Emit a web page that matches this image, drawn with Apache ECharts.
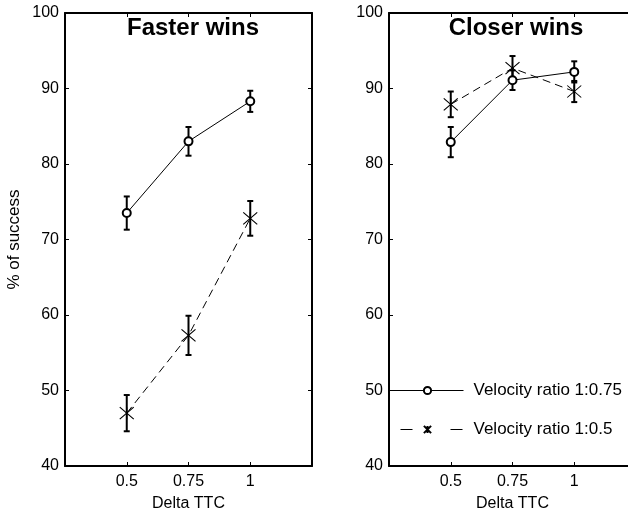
<!DOCTYPE html>
<html>
<head>
<meta charset="utf-8">
<script src="https://cdn.jsdelivr.net/npm/echarts@6/dist/echarts.min.js"></script>
<style>
  * { margin: 0; padding: 0; }
  #chart-container { width: 628px; height: 513px; background: #fff; }
</style>
</head>
<body>
<div id="chart-container"></div>
<script>
  // values
  var deltaTTC = [0.5, 0.75, 1]
  var fasterMean075 = [73.5, 83.0, 88.3]
  var fasterErr075 = [2.2, 1.9, 1.4]
  var fasterMean05 = [47.0, 57.3, 72.8]
  var fasterErr05 = [2.4, 2.6, 2.3]
  var closerMean075 = [82.9, 91.1, 92.2]
  var closerErr075 = [2.0, 1.3, 1.4]
  var closerMean05 = [87.9, 92.7, 89.6]
  var closerErr05 = [1.7, 1.6, 1.4]
  var panelTitles = ['Faster wins', 'Closer wins']
  var seriesNames = ['Velocity ratio 1:0.75', 'Velocity ratio 1:0.5']

  var FONT = 'Liberation Sans, Arial, sans-serif'
  var starPath = 'path://M0,0L10,10M10,0L0,10M5,0L5,10'

  function pts(means) {
    return deltaTTC.map(function (x, i) { return [x, means[i]] })
  }
  function bars(means, errs) {
    return deltaTTC.map(function (x, i) { return [x, means[i] - errs[i], means[i] + errs[i]] })
  }

  function renderErr(params, api) {
    var x = api.value(0)
    var lo = api.coord([x, api.value(1)])
    var hi = api.coord([x, api.value(2)])
    var c = 3
    var st = { stroke: '#000', lineWidth: 2 }
    return {
      type: 'group',
      children: [
        { type: 'line', shape: { x1: lo[0], y1: lo[1], x2: hi[0], y2: hi[1] }, style: st },
        { type: 'line', shape: { x1: lo[0] - c, y1: lo[1], x2: lo[0] + c, y2: lo[1] }, style: st },
        { type: 'line', shape: { x1: hi[0] - c, y1: hi[1], x2: hi[0] + c, y2: hi[1] }, style: st },
      ],
    }
  }

  function xAxes(gridIndex, withName) {
    var common = {
      gridIndex: gridIndex,
      type: 'value',
      min: 0.25,
      max: 1.25,
      interval: 0.25,
      splitLine: { show: false },
      axisLine: { lineStyle: { color: '#000', width: 2 } },
      axisTick: { inside: true, length: 4, lineStyle: { color: '#000', width: 1 } },
    }
    return [
      Object.assign({}, common, {
        position: 'bottom',
        name: withName ? 'Delta TTC' : '',
        nameLocation: 'middle',
        nameGap: 30,
        nameTextStyle: { color: '#000', fontSize: 16, fontFamily: FONT },
        axisLabel: {
          color: '#000', fontSize: 16, fontFamily: FONT, margin: 8,
          showMinLabel: false, showMaxLabel: false,
        },
      }),
      Object.assign({}, common, {
        position: 'top',
        axisLabel: { show: false },
      }),
    ]
  }

  function yAxes(gridIndex, withName) {
    var common = {
      gridIndex: gridIndex,
      type: 'value',
      min: 40,
      max: 100,
      interval: 10,
      splitLine: { show: false },
      axisLine: { show: true, lineStyle: { color: '#000', width: 2 } },
      axisTick: { show: true, inside: true, length: 4, lineStyle: { color: '#000', width: 1 } },
    }
    return [
      Object.assign({}, common, {
        position: 'left',
        name: withName ? '% of success' : '',
        nameLocation: 'middle',
        nameGap: 42,
        nameTextStyle: { color: '#000', fontSize: 17, fontFamily: FONT },
        axisLabel: { color: '#000', fontSize: 16, fontFamily: FONT, margin: 6 },
      }),
      Object.assign({}, common, {
        position: 'right',
        axisLabel: { show: false },
      }),
    ]
  }

  function panelSeries(idx, mean075, err075, mean05, err05) {
    var xi = idx * 2
    var yi = idx * 2
    return [
      {
        type: 'custom', xAxisIndex: xi, yAxisIndex: yi,
        renderItem: renderErr, data: bars(mean075, err075), silent: true,
      },
      {
        type: 'custom', xAxisIndex: xi, yAxisIndex: yi,
        renderItem: renderErr, data: bars(mean05, err05), silent: true,
      },
      {
        name: seriesNames[0], type: 'line', xAxisIndex: xi, yAxisIndex: yi,
        data: pts(mean075),
        symbol: 'emptyCircle', symbolSize: 8,
        lineStyle: { color: '#000', width: 1 },
        itemStyle: { color: '#000', borderColor: '#000', borderWidth: 1 },
        z: 3,
      },
      {
        name: seriesNames[1], type: 'line', xAxisIndex: xi, yAxisIndex: yi,
        data: pts(mean05),
        symbol: starPath, symbolSize: [14, 12], symbolKeepAspect: false,
        lineStyle: { color: '#000', width: 1, type: [8, 5] },
        itemStyle: { color: '#000', borderColor: '#000', borderWidth: 1 },
        z: 3,
      },
    ]
  }

  var myChart = echarts.init(document.getElementById('chart-container'), null, { renderer: 'canvas' })

  var option = {
    backgroundColor: '#fff',
    animation: false,
    grid: [
      { left: 65, right: 316, top: 13, bottom: 47, outerBoundsMode: 'none' },
      { left: 389, right: -8, top: 13, bottom: 47, outerBoundsMode: 'none' },
    ],
    xAxis: xAxes(0, true).concat(xAxes(1, true)),
    yAxis: yAxes(0, true).concat(yAxes(1, false)),
    legend: {
      data: [
        { name: seriesNames[0], lineStyle: { width: 1 } },
        { name: seriesNames[1], lineStyle: { width: 1, type: [12, 38], dashOffset: -9 } },
      ],
      orient: 'vertical',
      left: 391,
      top: 382,
      padding: 0,
      itemWidth: 72,
      itemHeight: 9,
      itemGap: 22,
      textStyle: { color: '#000', fontSize: 17, fontFamily: FONT, padding: [0, 0, 0, 5] },
    },
    graphic: [
      {
        type: 'text', x: 193, y: 28,
        style: { text: panelTitles[0], fill: '#000', font: 'bold 24px ' + FONT, textAlign: 'center', textVerticalAlign: 'middle' },
      },
      {
        type: 'text', x: 516, y: 28,
        style: { text: panelTitles[1], fill: '#000', font: 'bold 24px ' + FONT, textAlign: 'center', textVerticalAlign: 'middle' },
      },
    ],
    series: panelSeries(0, fasterMean075, fasterErr075, fasterMean05, fasterErr05)
      .concat(panelSeries(1, closerMean075, closerErr075, closerMean05, closerErr05)),
  }

  myChart.setOption(option)
  window.addEventListener('resize', myChart.resize)
</script>
</body>
</html>
